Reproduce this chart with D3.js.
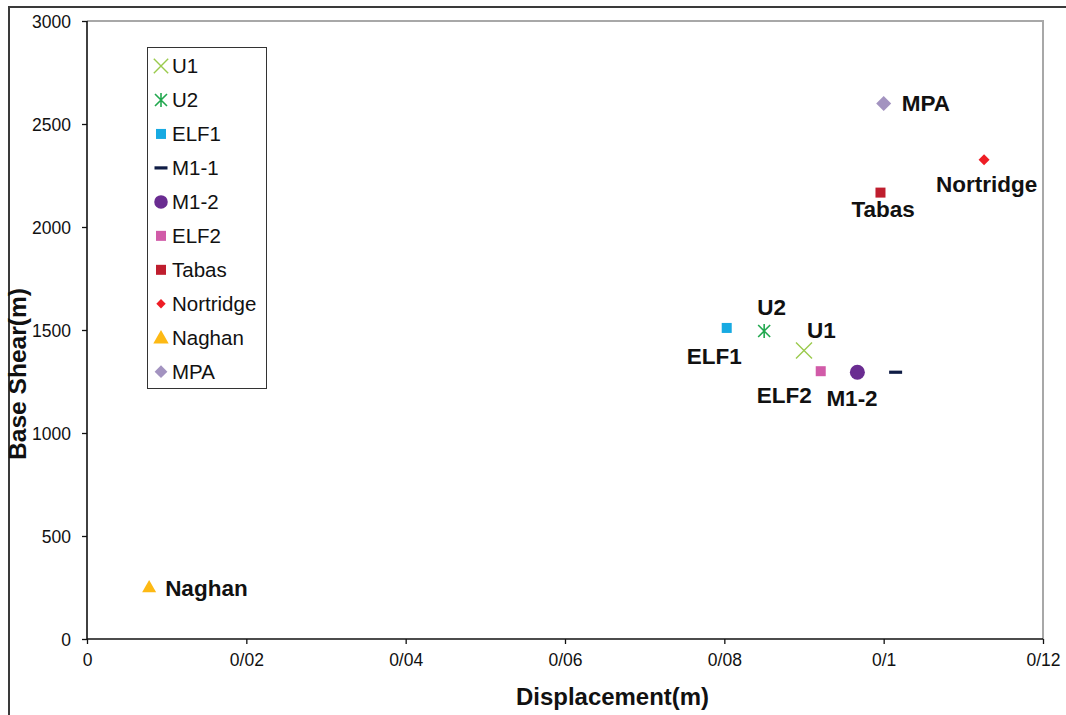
<!DOCTYPE html>
<html><head><meta charset="utf-8">
<script src="https://cdn.jsdelivr.net/npm/d3@7"></script>
<style>
html,body{margin:0;padding:0;background:#fff;}
svg{display:block;font-family:Arial,"Liberation Sans",sans-serif;}
</style></head>
<body><svg id="chart" width="1066" height="715"></svg>
<script>
// ---- data ----
const seriesNames = ["U1","U2","ELF1","M1-1","M1-2","ELF2","Tabas","Nortridge","Naghan","MPA"];
const displacement = [0.0900,0.0850,0.0803,0.1015,0.0967,0.0921,0.0996,0.1126,0.0078,0.1000];
const baseShear =    [1400, 1495, 1510, 1295, 1295, 1300, 2167, 2327, 252, 2600];
const pointLabels =  ["U1","U2","ELF1","","M1-2","ELF2","Tabas","Nortridge","Naghan","MPA"];
const xTicks = [0,0.02,0.04,0.06,0.08,0.10,0.12];
const xTickLabels = ["0","0/02","0/04","0/06","0/08","0/1","0/12"];
const yTicks = [0,500,1000,1500,2000,2500,3000];
const yTickLabels = ["0","500","1000","1500","2000","2500","3000"];

// ---- styles / layout ----
const markerStyle = {
  "U1":{type:"x",color:"#9ACA4C",size:16},
  "U2":{type:"star",color:"#22A84F",size:12},
  "ELF1":{type:"square",color:"#17AAE2",size:10},
  "M1-1":{type:"dash",color:"#0F1C45",size:13},
  "M1-2":{type:"circle",color:"#6A2C91",size:15},
  "ELF2":{type:"square",color:"#D15BA8",size:10},
  "Tabas":{type:"square",color:"#BF1E2E",size:10},
  "Nortridge":{type:"diamond",color:"#EE1D25",size:11},
  "Naghan":{type:"triangle",color:"#FDB914",size:14},
  "MPA":{type:"diamond",color:"#A393C0",size:15}
};
const labelOffset = {
  "U1":[3,-13],"U2":[-7,-16],"ELF1":[-40,36],"ELF2":[-64,32],"M1-2":[-31,34],
  "MPA":[18,8],"Nortridge":[-48,32],"Tabas":[-29,24],"Naghan":[16,9]
};

const svg = d3.select("#chart");
const L=87, R=1043, T=21, B=639;
const x = d3.scaleLinear().domain([0,0.12]).range([L,R]);
const y = d3.scaleLinear().domain([0,3000]).range([B,T]);

// outer chart border
svg.append("rect").attr("x",9).attr("y",7).attr("width",1080).attr("height",730)
  .attr("fill","none").attr("stroke","#3a3a3a").attr("stroke-width",2);

// plot area border (top, right)
svg.append("path").attr("d",`M${L},${T}H${R}V${B}`).attr("fill","none")
  .attr("stroke","#a8a8a8").attr("stroke-width",2);

// axes
const xAxis = d3.axisBottom(x).tickValues(xTicks).tickSize(5).tickPadding(10)
  .tickFormat((d,i)=>xTickLabels[i]);
const gx = svg.append("g").attr("transform",`translate(0,${B})`).call(xAxis);
const yAxis = d3.axisLeft(y).tickValues(yTicks).tickSize(5).tickPadding(11)
  .tickFormat((d,i)=>yTickLabels[i]);
const gy = svg.append("g").attr("transform",`translate(${L},0)`).call(yAxis);
[gx,gy].forEach(g=>{
  g.select(".domain").attr("stroke","#111").attr("stroke-width",1.6);
  g.selectAll(".tick line").attr("stroke","#111").attr("stroke-width",1.3);
  g.selectAll(".tick text").attr("fill","#111").style("font-size","17.5px")
    .style("font-family","Arial,'Liberation Sans',sans-serif");
});
gx.select(".domain").attr("d",`M${L},0H${R}`);
gy.select(".domain").attr("d",`M0,${B}V${T}`);
gy.selectAll(".tick text").attr("dy","0.36em");
gx.selectAll(".tick text").attr("dy","0.71em");

// axis titles
svg.append("text").attr("x",516).attr("y",705).attr("font-weight","bold")
  .style("font-size","23px").attr("fill","#111")
  .attr("textLength",193).attr("lengthAdjust","spacingAndGlyphs").text("Displacement(m)");
svg.append("text").attr("transform","translate(26,460) rotate(-90)").attr("font-weight","bold")
  .style("font-size","23px").attr("fill","#111")
  .attr("textLength",172).attr("lengthAdjust","spacingAndGlyphs").text("Base Shear(m)");

function drawMarker(g, st, cx, cy, scale){
  const s = st.size*(scale||1), h=s/2, c=st.color;
  switch(st.type){
    case "x":
      g.append("path").attr("d",`M${cx-h},${cy-h}L${cx+h},${cy+h}M${cx-h},${cy+h}L${cx+h},${cy-h}`)
        .attr("stroke",c).attr("stroke-width",1.4).attr("fill","none"); break;
    case "star":
      g.append("path").attr("d",`M${cx-h},${cy-h}L${cx+h},${cy+h}M${cx-h},${cy+h}L${cx+h},${cy-h}M${cx},${cy-h-1}L${cx},${cy+h+1}`)
        .attr("stroke",c).attr("stroke-width",1.6).attr("fill","none"); break;
    case "square":
      g.append("rect").attr("x",cx-h).attr("y",cy-h).attr("width",s).attr("height",s).attr("fill",c); break;
    case "dash":
      g.append("rect").attr("x",cx-h).attr("y",cy-1.6).attr("width",s).attr("height",3.2).attr("fill",c); break;
    case "circle":
      g.append("circle").attr("cx",cx).attr("cy",cy).attr("r",h).attr("fill",c); break;
    case "diamond":
      g.append("path").attr("d",`M${cx},${cy-h}L${cx+h},${cy}L${cx},${cy+h}L${cx-h},${cy}Z`).attr("fill",c); break;
    case "triangle":
      g.append("path").attr("d",`M${cx},${cy-h}L${cx+h},${cy+h*0.75}L${cx-h},${cy+h*0.75}Z`).attr("fill",c); break;
  }
}

// points
const gp = svg.append("g");
seriesNames.forEach((n,i)=>{
  drawMarker(gp, markerStyle[n], x(displacement[i]), y(baseShear[i]));
});
// point labels
seriesNames.forEach((n,i)=>{
  if(!pointLabels[i]) return;
  const o = labelOffset[n];
  svg.append("text").attr("x",x(displacement[i])+o[0]).attr("y",y(baseShear[i])+o[1])
    .attr("font-weight","bold").style("font-size","22.5px").attr("fill","#111").text(pointLabels[i]);
});

// legend
const lg = svg.append("g");
lg.append("rect").attr("x",147.5).attr("y",47.5).attr("width",119).attr("height",341)
  .attr("fill","#fff").attr("stroke","#333").attr("stroke-width",1);
seriesNames.forEach((n,i)=>{
  const cy = 66 + i*33.97;
  const st = markerStyle[n];
  const sc = {x:0.9,star:1.0,square:1,dash:1,circle:0.9,diamond:0.85,triangle:1.1}[st.type];
  drawMarker(lg, st, 161, cy, sc);
  lg.append("text").attr("x",172).attr("y",cy+7).style("font-size","20.5px").attr("fill","#111").text(n);
});
</script></body></html>
